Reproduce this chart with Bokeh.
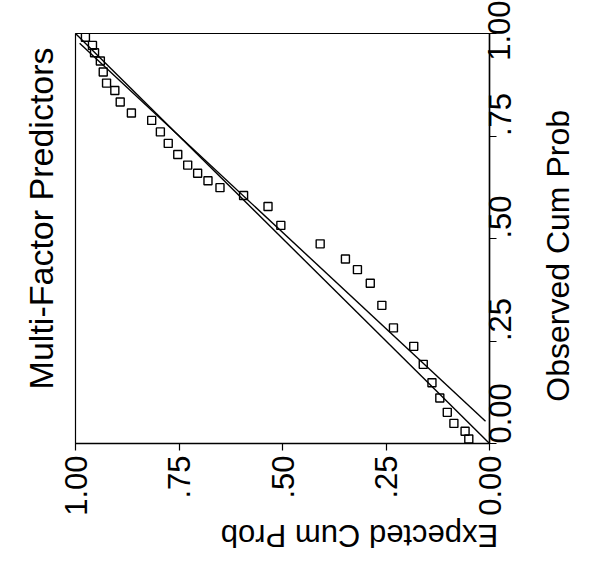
import math
from bokeh.plotting import figure
from bokeh.models import Range1d, LinearAxis, FixedTicker, CustomJSTickFormatter
from bokeh.embed import file_html
from bokeh.resources import INLINE

# Expected vs observed cumulative probabilities of the residuals
expected_cum = [0.976, 0.959, 0.954, 0.940, 0.933, 0.925, 0.905, 0.892, 0.865, 0.816,
                0.795, 0.776, 0.753, 0.729, 0.705, 0.680, 0.651, 0.594, 0.535, 0.504,
                0.409, 0.348, 0.319, 0.288, 0.260, 0.232, 0.183, 0.160, 0.139, 0.120,
                0.102, 0.086, 0.059, 0.050]
observed_cum = [0.991, 0.971, 0.953, 0.933, 0.906, 0.879, 0.861, 0.833, 0.806, 0.788,
                0.760, 0.732, 0.705, 0.679, 0.659, 0.641, 0.624, 0.605, 0.578, 0.532,
                0.487, 0.450, 0.424, 0.391, 0.337, 0.282, 0.237, 0.193, 0.148, 0.111,
                0.076, 0.049, 0.030, 0.011]

# Reference diagonal and fitted line
diag_x = [0.0, 1.0]
diag_y = [0.0, 1.0]
fit_x = [0.990, 0.0096]
fit_y = [0.976, 0.054]

tick_values = [0.0, 0.25, 0.5, 0.75, 1.0]
tick_labels = ["0.00", ".25", ".50", ".75", "1.00"]

title_text = "Multi-Factor Predictors"
x_title = "Expected Cum Prob"
y_title = "Observed Cum Prob"

FONT = "Liberation Sans"

p = figure(width=597, height=573,
           x_range=Range1d(1, 0), y_range=Range1d(0, 1),
           x_axis_location="below", y_axis_location="right",
           output_backend="svg", toolbar_location=None)
p.min_border_left = 74
p.min_border_right = 107
p.min_border_top = 33
p.min_border_bottom = 130
p.background_fill_color = "white"
p.border_fill_color = "white"
p.outline_line_color = "black"
p.outline_line_width = 1.2
p.xgrid.visible = False
p.ygrid.visible = False


def label_formatter(vals, labs):
    return CustomJSTickFormatter(args=dict(vals=vals, labs=labs), code="""
        for (let i = 0; i < vals.length; i++) {
            if (Math.abs(vals[i] - tick) < 1e-9) return labs[i];
        }
        return "";
    """)


for ax in (p.xaxis[0], p.yaxis[0]):
    ax.ticker = FixedTicker(ticks=tick_values)
    ax.formatter = label_formatter(tick_values, tick_labels)
    ax.minor_tick_line_color = None
    ax.major_tick_in = 0
    ax.major_tick_out = 7
    ax.axis_line_color = "black"
    ax.axis_line_width = 1.5
    ax.major_tick_line_color = "black"
    ax.major_tick_line_width = 1.2
    ax.major_label_text_font = FONT
    ax.major_label_text_font_size = "31px"
    ax.major_label_text_color = "black"
    ax.major_label_orientation = math.pi / 2

p.xaxis.major_label_standoff = 5
p.yaxis.major_label_standoff = 3


def text_axis(at, text, side, size, angle, standoff):
    """A bare axis whose single tick label carries a rotated page text."""
    ax = LinearAxis(ticker=FixedTicker(ticks=[at]),
                    formatter=label_formatter([at], [text]),
                    axis_line_color=None, major_tick_line_color=None,
                    minor_tick_line_color=None, major_tick_in=0, major_tick_out=0,
                    major_label_standoff=standoff, major_label_orientation=angle,
                    major_label_text_font=FONT, major_label_text_font_size=size,
                    major_label_text_color="black")
    p.add_layout(ax, side)
    return ax


# Chart title on the left, axis titles outside the tick labels
text_axis(0.966, title_text, "left", "34px", math.pi / 2, 34)
text_axis(0.102, y_title, "right", "32px", math.pi / 2, 34)
text_axis(0.649, x_title, "below", "31px", math.pi, 17)

p.line(diag_x, diag_y, line_color="black", line_width=1.4)
p.line(fit_x, fit_y, line_color="black", line_width=1.4)
p.scatter(expected_cum, observed_cum, marker="square", size=8,
          fill_color=None, line_color="black", line_width=1.4)

open("out.html", "w").write(file_html(p, INLINE))
